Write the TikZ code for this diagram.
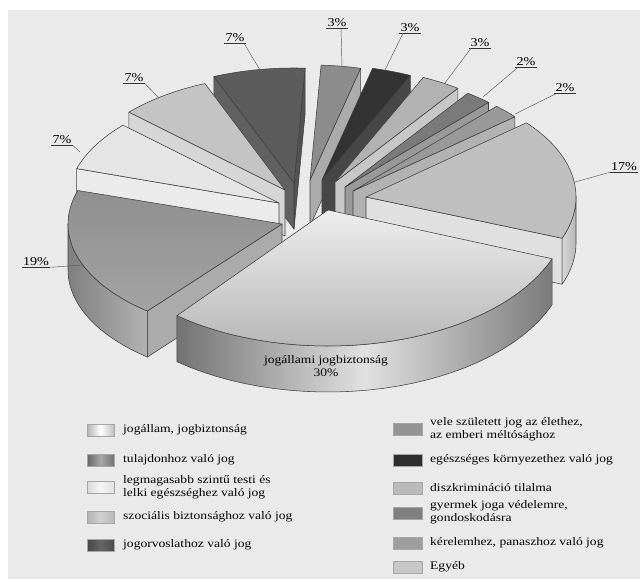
\documentclass[tikz,border=0pt]{standalone}
\usepackage{fontspec}
\setmainfont{Liberation Serif}
\newfontfamily\lgfam{Liberation Serif}[FakeStretch=1.18]
\definecolor{bg}{HTML}{EAEAEA}
\newcommand{\lgfont}{\lgfam\fontsize{11.5}{12.8}\selectfont}
\newcommand{\pctfont}{\lgfam\fontsize{12}{12}\selectfont}
% top surface: tipx tipy Rx Ry a b style
\newcommand{\sltop}[7]{\path[#7] (#1,#2) -- plot[domain=#5:#6,samples=40,variable=\aa] ({#1+#3*cos(\aa)},{#2-#4*sin(\aa)}) -- cycle;}
% outer side: tipx tipy Rx Ry t1 t2 h style
\newcommand{\slside}[8]{\path[#8] plot[domain=#5:#6,samples=30,variable=\aa] ({#1+#3*cos(\aa)},{#2-#4*sin(\aa)}) -- plot[domain=#6:#5,samples=30,variable=\aa] ({#1+#3*cos(\aa)},{#2-#4*sin(\aa)+#7}) -- cycle;}
% radial face: tipx tipy Rx Ry angle h style
\newcommand{\slface}[7]{\path[#7] (#1,#2) -- ({#1+#3*cos(#5)},{#2-#4*sin(#5)}) -- ({#1+#3*cos(#5)},{#2-#4*sin(#5)+#6}) -- ({#1},{#2+#6}) -- cycle;}
\tikzset{
  sedge/.style={draw=black!75, line width=0.55pt, line join=round},
  pct/.style={font=\pctfont, inner sep=1pt},
  ul/.style={line width=0.9pt, black!80},
  leader/.style={black!65, line width=0.45pt},
  sw/.style={draw=black!35, line width=0.3pt},
  lg/.style={font=\lgfont, anchor=west, align=left, inner sep=0pt},
}
\begin{document}
\begin{tikzpicture}[x=1pt,y=-1pt]
\useasboundingbox (0,0) rectangle (640,579);
\fill[white] (0,0) rectangle (640,579);
\fill[bg] (8,10) rectangle (640,579);

% vele szuletett 3%
\slface{310}{180}{212}{115}{76.2}{46}{sedge, fill=black!33}
\sltop{310}{180}{212}{115}{76.2}{87}{sedge, fill=black!45}
% jogorvoslat 7%
\slface{294}{183}{212}{115}{87}{46}{sedge, fill=black!68}
\slface{294}{183}{212}{115}{112.2}{46}{sedge, fill=black!62}
\sltop{294}{183}{212}{115}{87}{112.2}{sedge, fill=black!64}
% egeszseges kornyezet 3%
\slface{322}{180}{212}{115}{65.4}{46}{sedge, fill=black!72}
\sltop{322}{180}{212}{115}{65.4}{76.2}{sedge, fill=black!80}
% diszkriminacio 3%
\slface{335}{182}{212}{115}{54.6}{46}{sedge, fill=black!22}
\sltop{335}{182}{212}{115}{54.6}{65.4}{sedge, fill=black!30}
% szocialis 7%
\slface{285}{190}{212}{115}{137.4}{46}{sedge, fill=black!16}
\sltop{285}{190}{212}{115}{112.2}{137.4}{sedge, fill=black!23}
% gyermek 2%
\slface{345}{187}{212}{115}{47.4}{46}{sedge, fill=black!40}
\sltop{345}{187}{212}{115}{47.4}{54.6}{sedge, fill=black!52}
% kerelem 2%
\slface{353}{191}{212}{115}{40.2}{46}{sedge, fill=black!30}
\sltop{353}{191}{212}{115}{40.2}{47.4}{sedge, fill=black!40}
% legmagasabb 7%
\slface{279}{203}{212}{115}{162.6}{46}{sedge, fill=black!8}
\sltop{279}{203}{212}{115}{137.4}{162.6}{sedge, fill=black!10}
% egyeb 17%
\slface{366}{197}{210}{115}{-21}{46}{sedge, fill=black!12}
\slside{366}{197}{210}{115}{-21}{0}{46}{sedge, left color=black!16, right color=black!28}
\sltop{366}{197}{210}{115}{-21}{40.2}{sedge, fill=black!25}
% tulajdon 19%
\slface{282}{224}{214}{112}{231}{46}{sedge, fill=black!33}
\slside{282}{224}{214}{112}{180}{231}{46}{sedge, left color=black!50, right color=black!30}
\sltop{282}{224}{214}{112}{162.6}{231}{sedge, top color=black!44, bottom color=black!36}
% jogallam 30%
\slside{328}{210}{240}{136}{231}{339}{46}{sedge, left color=black!55, right color=black!52, middle color=black!12}
\sltop{328}{210}{240}{136}{231}{339}{sedge, top color=black!7, bottom color=black!28}

\node[lg, anchor=center, align=center] (bigtxt) at (326,366) {jogállami jogbiztonság\\30\%};

% percentage labels
\coordinate (pvele) at (342,67);
\coordinate (pegesz) at (385,70);
\coordinate (pdiszk) at (445,83);
\coordinate (pgyer) at (483,97);
\coordinate (pker) at (515,114);
\coordinate (pjogo) at (260,70);
\coordinate (pszoc) at (158,97);
\coordinate (plegm) at (80,152);
\coordinate (ptul) at (83,265);
\coordinate (pegy) at (575,182);

\node[pct] (lvele) at (337,23) {3\%};
\node[pct] (legesz) at (410,28) {3\%};
\node[pct] (ldiszk) at (480,43) {3\%};
\node[pct] (lgyer) at (526,62) {2\%};
\node[pct] (lker) at (565,88) {2\%};
\node[pct] (ljogo) at (235,38) {7\%};
\node[pct] (lszoc) at (134,78) {7\%};
\node[pct] (llegm) at (62,140) {7\%};
\node[pct] (ltul) at (36,262) {19\%};
\node[pct] (legy) at (624,167) {17\%};

\foreach \n in {lvele,legesz,ldiszk,lgyer,lker,ljogo,lszoc,llegm,ltul,legy}
  \draw[ul] (\n.south west) -- (\n.south east);

\draw[leader] ([xshift=4pt]lvele.south) -- (pvele);
\draw[leader] ([xshift=-7pt]legesz.south) -- (pegesz);
\draw[leader] ([xshift=-9pt]ldiszk.south) -- (pdiszk);
\draw[leader] ([xshift=-8pt]lgyer.south) -- (pgyer);
\draw[leader] ([xshift=-8pt]lker.south) -- (pker);
\draw[leader] ([xshift=9pt]ljogo.south) -- (pjogo);
\draw[leader] (lszoc.south east) -- (pszoc);
\draw[leader] (llegm.south east) -- (plegm);
\draw[leader] (ltul.south east) -- (ptul);
\draw[leader] (legy.south west) -- (pegy);

% legend left
\path[sw, left color=black!30, right color=black!25, middle color=white] (87,424) rectangle (114,436);
\node[lg] (t1) at (123,430) {jogállam, jogbiztonság};
\path[sw, left color=black!60, right color=black!55, middle color=black!35] (87,454) rectangle (114,466);
\node[lg] (t2) at (123,460) {tulajdonhoz való jog};
\path[sw, left color=black!15, right color=black!12, middle color=black!4] (87,481) rectangle (114,493);
\node[lg] (t3) at (123,487) {legmagasabb szintű testi és\\lelki egészséghez való jog};
\path[sw, left color=black!30, right color=black!28, middle color=black!18] (87,511) rectangle (114,523);
\node[lg] (t4) at (123,517) {szociális biztonsághoz való jog};
\path[sw, left color=black!72, right color=black!70, middle color=black!60] (87,539) rectangle (114,551);
\node[lg] (t5) at (123,545) {jogorvoslathoz való jog};

% legend right
\path[sw, fill=black!42] (393,423) rectangle (422,435);
\node[lg] (r1) at (430,429) {vele született jog az élethez,\\az emberi méltósághoz};
\path[sw, fill=black!82] (393,454) rectangle (422,466);
\node[lg] (r2) at (430,460) {egészséges környezethez való jog};
\path[sw, fill=black!27] (393,482) rectangle (422,494);
\node[lg] (r3) at (430,488) {diszkrimináció tilalma};
\path[sw, fill=black!50] (393,507) rectangle (422,519);
\node[lg] (r4) at (430,512) {gyermek joga védelemre,\\gondoskodásra};
\path[sw, fill=black!38] (393,537) rectangle (422,549);
\node[lg] (r5) at (430,543) {kérelemhez, panaszhoz való jog};
\path[sw, fill=black!22] (393,561) rectangle (422,573);
\node[lg] (r6) at (430,567) {Egyéb};
\end{tikzpicture}
\end{document}
